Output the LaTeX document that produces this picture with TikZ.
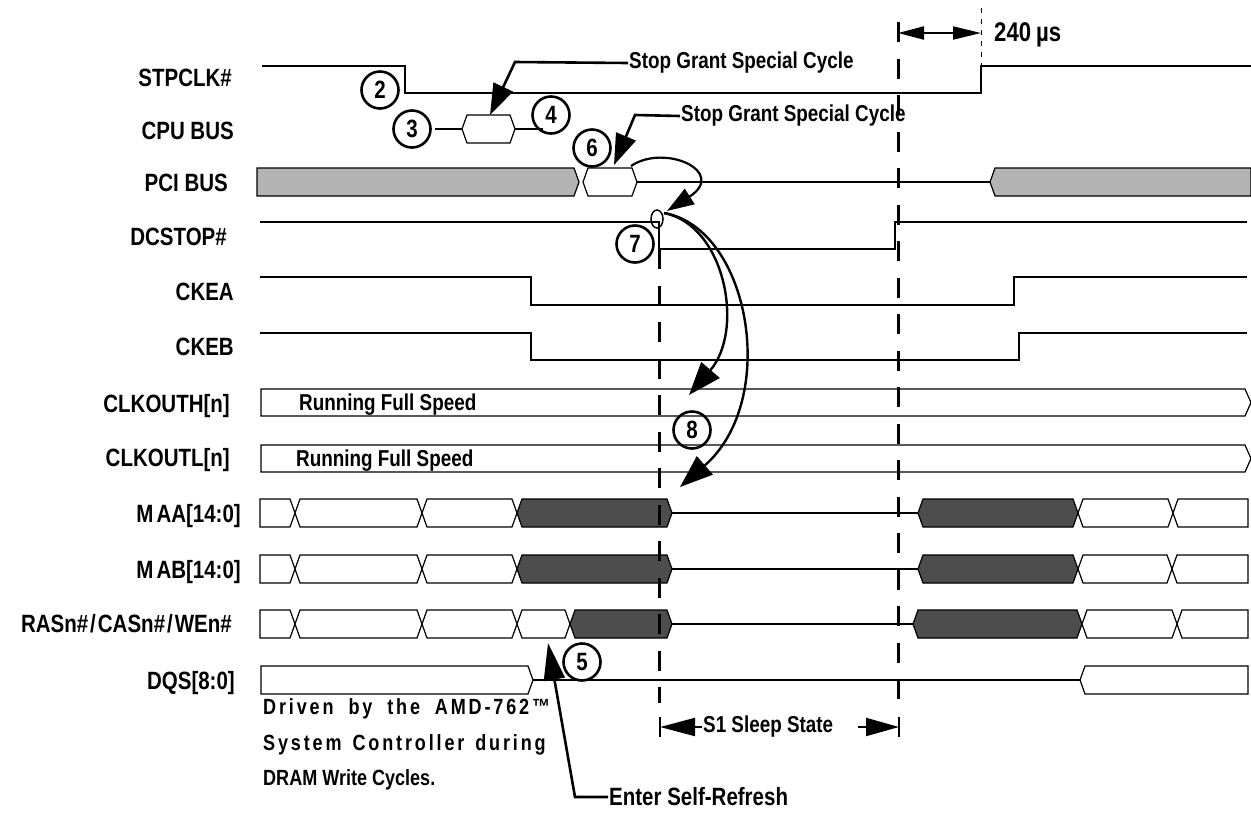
\documentclass[tikz,border=0pt]{standalone}
\usepackage{fontspec}
\newfontfamily\hv{Liberation Sans}[FakeStretch=0.82]
\newfontfamily\hvls{Liberation Sans}[FakeStretch=0.82,LetterSpace=13]
\usetikzlibrary{arrows.meta,shapes.geometric}
\definecolor{busgray}{HTML}{B3B3B3}
\definecolor{busdark}{HTML}{4D4D4D}
\newcommand\hexs[4]{\filldraw[sig,fill=#4] (#1,#3) -- ({#1+5},{#3-14}) -- ({#2-5},{#3-14}) -- (#2,#3) -- ({#2-5},{#3+14}) -- ({#1+5},{#3+14}) -- cycle;}
\newcommand\sseg[4]{\filldraw[sig,fill=#4] (#1,{#3-14}) -- ({#2-5},{#3-14}) -- (#2,#3) -- ({#2-5},{#3+14}) -- (#1,{#3+14}) -- cycle;}
\newcommand\eseg[4]{\filldraw[sig,fill=#4] (#1,#3) -- ({#1+5},{#3-14}) -- (#2,{#3-14}) -- (#2,{#3+14}) -- ({#1+5},{#3+14}) -- cycle;}
\begin{document}
\begin{tikzpicture}[x=1pt,y=-1pt,
  sig/.style={line width=1.2pt},
  lab/.style={anchor=base east, inner sep=0pt, font=\hv\bfseries\fontsize{25}{25}\selectfont},
  num/.style={circle, draw, line width=2.6pt, minimum size=37pt, inner sep=0pt, font=\hv\bfseries\fontsize{25}{25}\selectfont},
  note/.style={anchor=west, inner sep=1pt, font=\hv\bfseries\fontsize{23}{23}\selectfont},
  drv/.style={anchor=west, inner sep=0pt, font=\hvls\bfseries\fontsize{22}{22}\selectfont},
  lead/.style={line width=2.6pt, -{Triangle[length=31pt,width=21pt]}},
  curv/.style={line width=2.4pt, -{Triangle[length=33pt,width=24pt]}},
  dsh/.style={line width=3pt, dash pattern=on 20pt off 16.5pt}]
\fill[white] (0,0) rectangle (1251,812);
\useasboundingbox (0,0) rectangle (1251,812);

% labels
\node[lab] (lstp) at (232,86) {STPCLK\#};
\node[lab] (lcpu) at (234,139) {CPU BUS};
\node[lab] (lpci) at (228,191) {PCI BUS};
\node[lab] (ldcs) at (227,245) {DCSTOP\#};
\node[lab] (lckea) at (234,300) {CKEA};
\node[lab] (lckeb) at (234,355) {CKEB};
\node[lab] (lcho) at (230,412) {CLKOUTH[n]};
\node[lab] (lclo) at (230,466) {CLKOUTL[n]};
\node[lab] (lmaa) at (241,522) {M\kern3pt AA[14:0]};
\node[lab] (lmab) at (241,578) {M\kern3pt AB[14:0]};
\node[lab] (lras) at (232,632) {RASn\#\kern2pt/\kern2pt CASn\#\kern2pt/\kern2pt WEn\#};
\node[lab] (ldqs) at (235,689) {DQS[8:0]};

% STPCLK#
\draw[sig] (262,66) -- (405,66) -- (405,93) -- (981,93) -- (981,66) -- (1251,66);
% CPU BUS
\draw[line width=2.6pt] (435,129) -- (462,129);
\hexs{462}{515}{129}{white}
\draw[line width=2.6pt] (515,129) -- (543,129);
% PCI BUS
\sseg{257}{579}{182}{busgray}
\hexs{583}{637}{182}{white}
\draw[sig] (637,182) -- (990,182);
\eseg{990}{1251}{182}{busgray}
% DCSTOP#
\draw[sig] (260,222) -- (659,222) -- (659,249) -- (895,249) -- (895,222) -- (1247,222);
% CKEA / CKEB
\draw[sig] (260,277) -- (531,277) -- (531,305) -- (1014,305) -- (1014,277) -- (1247,277);
\draw[sig] (260,333) -- (531,333) -- (531,360) -- (1019,360) -- (1019,333) -- (1247,333);
% CLKOUT
\filldraw[sig,fill=white] (261,389) -- (1245,389) -- (1251,402.5) -- (1245,416) -- (261,416) -- cycle;
\filldraw[sig,fill=white] (261,445) -- (1245,445) -- (1251,458.5) -- (1245,472) -- (261,472) -- cycle;
\node[note, anchor=base west, inner sep=0pt] (rfs1) at (299,410) {Running Full Speed};
\node[note, anchor=base west, inner sep=0pt] (rfs2) at (296,466) {Running Full Speed};
% MAA
\sseg{260}{295}{513}{white}
\hexs{295}{422}{513}{white}
\hexs{422}{517}{513}{white}
\hexs{517}{672}{513}{busdark}
\draw[sig] (672,513) -- (918,513);
\hexs{918}{1078}{513}{busdark}
\hexs{1078}{1173}{513}{white}
\eseg{1173}{1248}{513}{white}
% MAB
\sseg{260}{295}{569}{white}
\hexs{295}{422}{569}{white}
\hexs{422}{517}{569}{white}
\hexs{517}{672}{569}{busdark}
\draw[sig] (672,569) -- (918,569);
\hexs{918}{1078}{569}{busdark}
\hexs{1078}{1172}{569}{white}
\eseg{1172}{1248}{569}{white}
% RAS
\sseg{260}{295}{624}{white}
\hexs{295}{422}{624}{white}
\hexs{422}{517}{624}{white}
\hexs{517}{570}{624}{white}
\hexs{570}{672}{624}{busdark}
\draw[sig] (672,624) -- (913,624);
\hexs{913}{1082}{624}{busdark}
\hexs{1082}{1177}{624}{white}
\eseg{1177}{1248}{624}{white}
% DQS
\sseg{261}{533}{680}{white}
\draw[sig] (533,680) -- (1080,680);
\eseg{1080}{1248}{680}{white}

% dashed lines
\draw[dsh] (898,22) -- (898,703);
\draw[dsh] (659,249) -- (659,703);
\draw[line width=1pt, dash pattern=on 5pt off 6pt] (981,8) -- (981,66);

% 240 us
\coordinate (m1) at (898,33);
\coordinate (m2) at (981,33);
\draw[line width=2pt, {Triangle[length=26pt,width=13pt]}-{Triangle[length=28pt,width=13pt]}] (m1) -- (m2);
\node[anchor=west, inner sep=0pt, font=\hv\bfseries\fontsize{27}{27}\selectfont] (us) at (994,35) {240\kern5pt µs};

% numbers
\node[num] (c2) at (380,90) {2};
\node[num] (c3) at (412,129) {3};
\node[num] (c4) at (551,115) {4};
\node[num] (c6) at (592,148) {6};
\node[num] (c7) at (635,244) {7};
\node[num] (c8) at (692,430) {8};
\node[num] (c5) at (582,662) {5};

% Stop Grant labels
\node[note] (sg1) at (628,63) {Stop Grant Special Cycle};
\coordinate (k1) at (515,62);
\coordinate (t1) at (490,115);
\draw[lead] (sg1.west) -- (k1) -- (t1);
\node[note] (sg2) at (680,116) {Stop Grant Special Cycle};
\coordinate (k2) at (635,115);
\coordinate (t2) at (614,165);
\draw[lead] (sg2.west) -- (k2) -- (t2);

% PCI -> DCSTOP curve
\coordinate (p6) at (631,166);
\coordinate (t3) at (667,211);
\draw[line width=2.2pt, -{Triangle[length=27pt,width=18pt]}] (p6) .. controls (665,143) and (728,172) .. (t3);
\node[draw, ellipse, line width=1.5pt, minimum width=12pt, minimum height=18pt, inner sep=0pt] (e7) at (657,219) {};
% curves 8
\coordinate (e7s) at (664,213);
\coordinate (t8a) at (689,395);
\coordinate (t8b) at (680,487);
\draw[curv] (e7s) .. controls (725,225) and (745,330) .. (t8a);
\draw[curv] (e7s) .. controls (750,228) and (780,400) .. (t8b);

% Enter Self-Refresh
\node[anchor=west, inner sep=1pt, font=\hv\bfseries\fontsize{25}{25}\selectfont] (esr) at (608,797) {Enter Self-Refresh};
\coordinate (k5) at (575,797);
\coordinate (t5) at (548,643);
\draw[line width=2.6pt, -{Triangle[length=37pt,width=21pt]}] (esr.west) -- (k5) -- (t5);

% S1 sleep state
\node[note, font=\hv\bfseries\fontsize{23}{23}\selectfont] (s1) at (702,727) {S1 Sleep State};
\coordinate (b1) at (660,727);
\coordinate (b2) at (899,727);
\coordinate (r1) at (858,727);
\draw[line width=2pt] (660,717) -- (660,737);
\draw[line width=2pt] (899,717) -- (899,737);
\draw[line width=2pt, -{Triangle[length=35pt,width=18pt]}] (s1.west) -- (b1);
\draw[line width=2pt, -{Triangle[length=33pt,width=18pt]}] (r1) -- (b2);

% Driven by note
\node[drv] (d1) at (263,709) {Driven \kern7pt by \kern7pt the \kern7pt AMD-762™};
\node[drv] (d2) at (263,745) {System \kern3pt Controller \kern3pt during};
\node[anchor=west, inner sep=0pt, font=\hv\bfseries\fontsize{22}{22}\selectfont] (d3) at (263,780) {DRAM Write Cycles.};
\end{tikzpicture}
\end{document}
